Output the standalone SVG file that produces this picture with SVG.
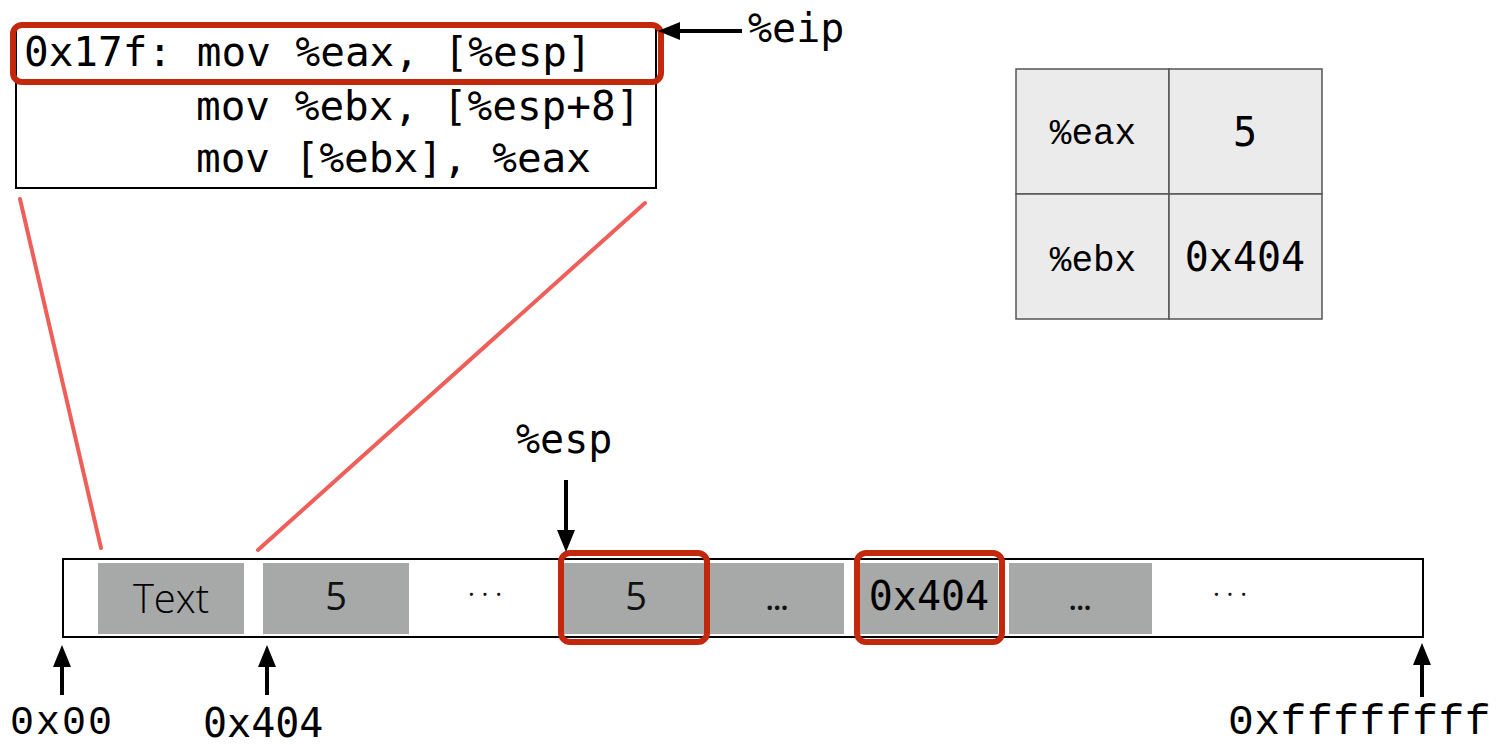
<svg xmlns="http://www.w3.org/2000/svg" width="1497" height="745" viewBox="0 0 1497 745">
  <defs>
    <!-- arrowhead pointing +x, tip at origin -->
    <path id="head" d="M0,0 L-22,-9 L-22,9 z" fill="#000"/>
    <style>
      .mono { font-family: "DejaVu Sans Mono", monospace; fill: #000; }
      .cour { font-family: "Liberation Mono", monospace; fill: #000; }
      .sans { font-family: "Open Sans", "DejaVu Sans", sans-serif; fill: #111; }
      .cell { fill: #a6a9a7; }
      .hl { fill: none; stroke: #c4280c; stroke-width: 6; }
      .reg { fill: #ebebeb; stroke: #555; stroke-width: 1.5; }
      .shaft { stroke: #000; stroke-width: 4; fill: none; }
      .zoom { stroke: #ef5f5a; stroke-width: 4; stroke-linecap: round; fill: none; }
    </style>
  </defs>
  <rect width="1497" height="745" fill="#fff"/>

  <!-- instruction listing -->
  <g id="code">
    <rect x="16" y="27" width="640" height="161" fill="#fff" stroke="#000" stroke-width="2"/>
    <text class="mono" x="24" y="66" font-size="41">0x17f: mov %eax, [%esp]</text>
    <text class="mono" x="196" y="120" font-size="41">mov %ebx, [%esp+8]</text>
    <text class="mono" x="196" y="172" font-size="41">mov [%ebx], %eax</text>
    <rect class="hl" x="13" y="25" width="648" height="57" rx="9"/>
  </g>

  <g id="eip">
    <text class="mono" x="748" y="42" font-size="40">%eip</text>
  </g>

  <!-- register file -->
  <g id="registers">
    <rect class="reg" x="1016" y="69" width="153" height="125"/>
    <rect class="reg" x="1169" y="69" width="153" height="125"/>
    <rect class="reg" x="1016" y="194" width="153" height="125"/>
    <rect class="reg" x="1169" y="194" width="153" height="125"/>
    <text class="cour" x="1093" y="144" font-size="36" text-anchor="middle">%eax</text>
    <text class="mono" x="1245" y="146" font-size="40" text-anchor="middle">5</text>
    <text class="cour" x="1093" y="271" font-size="36" text-anchor="middle">%ebx</text>
    <text class="mono" x="1245" y="271" font-size="40" text-anchor="middle">0x404</text>
  </g>

  <!-- memory strip -->
  <g id="memory">
    <rect x="63" y="559" width="1360" height="78" fill="#fff" stroke="#000" stroke-width="2"/>
    <rect class="cell" x="98" y="563" width="146" height="71"/>
    <rect class="cell" x="263" y="563" width="146" height="71"/>
    <rect class="cell" x="564" y="563" width="142" height="71"/>
    <rect class="cell" x="710" y="563" width="134" height="71"/>
    <rect class="cell" x="860" y="563" width="138" height="71"/>
    <rect class="cell" x="1009" y="563" width="143" height="71"/>
    <text class="sans" x="171" y="613" font-size="40" font-weight="300" text-anchor="middle" style="fill:#000">Text</text>
    <text class="sans" x="336" y="610" font-size="38" text-anchor="middle">5</text>
    <text class="sans" x="485" y="603" font-size="26" text-anchor="middle">· · ·</text>
    <text class="sans" x="636" y="610" font-size="38" text-anchor="middle">5</text>
    <text class="sans" x="777" y="610" font-size="26" font-weight="bold" text-anchor="middle">…</text>
    <text class="mono" x="929" y="610" font-size="40" text-anchor="middle">0x404</text>
    <text class="sans" x="1080" y="610" font-size="26" font-weight="bold" text-anchor="middle">…</text>
    <text class="sans" x="1230" y="603" font-size="26" text-anchor="middle">· · ·</text>
    <rect class="hl" x="561" y="553" width="146" height="89" rx="9"/>
    <rect class="hl" x="857" y="553" width="145" height="89" rx="9"/>
  </g>

  <g id="labels">
    <text class="mono" x="516" y="453" font-size="40">%esp</text>
    <text class="cour" x="10" y="734" font-size="40" letter-spacing="2">0x00</text>
    <text class="mono" x="203" y="737" font-size="40">0x404</text>
    <text class="cour" x="1228" y="734" font-size="43" letter-spacing="0.5">0xffffffff</text>
  </g>

  <!-- pointers and zoom guides -->
  <g id="connectors">
    <line class="shaft" x1="742" y1="31" x2="675" y2="31"/>
    <use href="#head" transform="translate(658,31) rotate(180)"/>
    <line class="shaft" x1="566" y1="480" x2="566" y2="535"/>
    <use href="#head" transform="translate(566,552) rotate(90)"/>
    <line class="shaft" x1="62" y1="695" x2="62" y2="662"/>
    <use href="#head" transform="translate(62,645) rotate(-90)"/>
    <line class="shaft" x1="267" y1="695" x2="267" y2="662"/>
    <use href="#head" transform="translate(267,645) rotate(-90)"/>
    <line class="shaft" x1="1422" y1="697" x2="1422" y2="660"/>
    <use href="#head" transform="translate(1422,643) rotate(-90)"/>
    <line class="zoom" x1="20" y1="199" x2="101" y2="548"/>
    <line class="zoom" x1="645" y1="203" x2="258" y2="550"/>
  </g>
</svg>
